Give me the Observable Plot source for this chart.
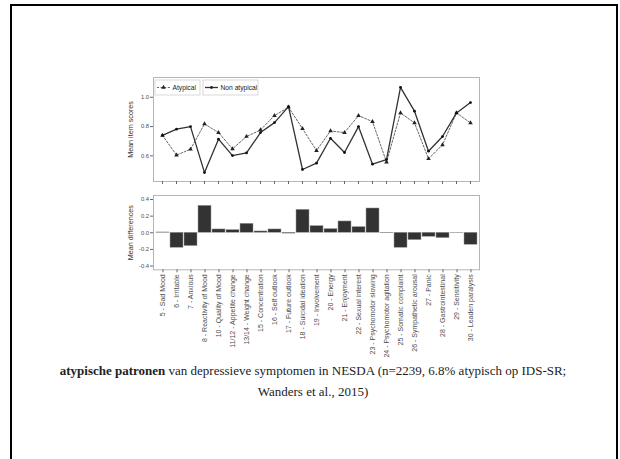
<!DOCTYPE html>
<html><head><meta charset="utf-8">
<script src="https://cdn.jsdelivr.net/npm/d3@7"></script>
<script src="https://cdn.jsdelivr.net/npm/@observablehq/plot@0.6"></script>
<style>
html,body{margin:0;padding:0;background:#fff;}
#page{position:relative;width:620px;height:459px;overflow:hidden;background:#fff;}
#frame{position:absolute;left:10px;top:4px;width:608px;height:480px;border:2px solid #000;box-sizing:border-box;}
#top{position:absolute;left:0;top:60px;}
#bottom{position:absolute;left:0;top:185px;}
#legend{position:absolute;left:0;top:0;}
#caption{position:absolute;left:0;width:626px;top:360px;text-align:center;font-family:"Liberation Serif",serif;font-size:13px;line-height:21px;color:#222;}
#caption b{font-weight:bold;}
</style>
</head><body>
<div id="page">
<div id="frame"></div>
<div id="top"></div>
<div id="bottom"></div>
<svg id="legend" width="620" height="120"></svg>
<div id="caption"><b>atypische patronen</b> van depressieve symptomen in NESDA (n=2239, 6.8% atypisch op IDS-SR;<br>Wanders et al., 2015)</div>
</div>
<script>
const items = ["5 - Sad Mood","6 - Irritable","7 - Anxious","8 - Reactivity of Mood","10 - Quality of Mood","11/12 - Appetite change","13/14 - Weight change","15 - Concentration","16 - Self outlook","17 - Future outlook","18 - Suicidal ideation","19 - Involvement","20 - Energy","21 - Enjoyment","22 - Sexual interest","23 - Psychomotor slowing","24 - Psychomotor agitation","25 - Somatic complaint","26 - Sympathetic arousal","27 - Panic","28 - Gastrointestinal","29 - Sensitivity","30 - Leaden paralysis"];
const atypical = [0.74,0.605,0.645,0.818,0.759,0.648,0.732,0.777,0.875,0.932,0.786,0.636,0.77,0.759,0.875,0.834,0.557,0.893,0.825,0.58,0.675,0.893,0.825];
const nonAtypical = [0.74,0.782,0.80,0.486,0.714,0.602,0.62,0.759,0.827,0.936,0.507,0.55,0.72,0.623,0.80,0.543,0.575,1.068,0.905,0.632,0.732,0.893,0.964];
const differences = [0.004,-0.18,-0.16,0.324,0.04,0.032,0.108,0.016,0.04,-0.01,0.276,0.08,0.044,0.136,0.068,0.292,-0.005,-0.18,-0.088,-0.048,-0.064,-0.003,-0.144];
const seriesNames = ["Atypical","Non atypical"];
const topTicks = [0.6,0.8,1.0];
const bottomTicks = [-0.4,-0.2,0.0,0.2,0.4];

const atypRows = items.map((it,i)=>({item:it, value:atypical[i]}));
const nonRows = items.map((it,i)=>({item:it, value:nonAtypical[i]}));
const diffRows = items.map((it,i)=>({item:it, diff:differences[i]}));

const tickColor = "#4d4d4d";
const topPlot = Plot.plot({
  width:620, height:140, marginLeft:153, marginRight:141, marginTop:17, marginBottom:19,
  style:{fontFamily:"Liberation Sans, Arial, sans-serif", background:"transparent"},
  x:{type:"point", domain:items, padding:0.6},
  y:{domain:[0.425,1.135]},
  marks:[
    Plot.frame({stroke:"#b5b5b5", strokeWidth:1}),
    Plot.axisY({ticks:topTicks, tickSize:3, tickPadding:1.5, tickFormat:d=>d.toFixed(1), fontSize:5.8, color:tickColor, label:null, stroke:"#666"}),
    Plot.axisX({tickSize:3, tickFormat:()=>"", label:null, stroke:"#666"}),
    Plot.line(atypRows,{x:"item", y:"value", stroke:"#555", strokeWidth:0.9, strokeDasharray:"2,1.6"}),
    Plot.dot(atypRows,{x:"item", y:"value", symbol:"triangle", r:1.7, fill:"#222", stroke:"none"}),
    Plot.line(nonRows,{x:"item", y:"value", stroke:"#333", strokeWidth:1.3}),
    Plot.dot(nonRows,{x:"item", y:"value", r:1.4, fill:"#111", stroke:"none"}),
    Plot.text(["Mean item scores"],{frameAnchor:"left", textAnchor:"middle", rotate:-90, dx:-23, fontSize:7.2, fill:"#333"})
  ]
});
document.getElementById("top").appendChild(topPlot);

const bottomPlot = Plot.plot({
  width:620, height:200, marginLeft:153, marginRight:141, marginTop:10, marginBottom:115.7,
  style:{fontFamily:"Liberation Sans, Arial, sans-serif", background:"transparent"},
  x:{type:"band", domain:items, paddingInner:0.1, paddingOuter:0.15},
  y:{domain:[-0.445,0.448]},
  marks:[
    Plot.frame({stroke:"#b5b5b5", strokeWidth:1}),
    Plot.barY(diffRows,{x:"item", y:"diff", fill:"#333", stroke:"#9a9a9a", strokeWidth:0.5}),
    Plot.axisY({ticks:bottomTicks, tickSize:3, tickPadding:1.5, tickFormat:d=>d.toFixed(1), fontSize:5.8, color:tickColor, label:null, stroke:"#666"}),
    Plot.axisX({tickSize:3, tickRotate:-90, tickPadding:1.5, fontSize:7, color:tickColor, label:null, stroke:"#666"}),
    Plot.text(["Mean differences"],{frameAnchor:"left", textAnchor:"middle", rotate:-90, dx:-23, fontSize:7.2, fill:"#333"})
  ]
});
document.getElementById("bottom").appendChild(bottomPlot);

// legend
const lg = d3.select("#legend").style("font-family","Liberation Sans, Arial, sans-serif");
const boxes = [
  {x:155, w:45, name:seriesNames[0], dash:"2,1.6", sym:d3.symbolTriangle},
  {x:203, w:55, name:seriesNames[1], dash:null, sym:d3.symbolCircle}
];
boxes.forEach(b=>{
  const g = lg.append("g");
  g.append("rect").attr("x",b.x).attr("y",80).attr("width",b.w).attr("height",15).attr("fill","#fff").attr("stroke","#cfcfcf").attr("stroke-width",0.8);
  g.append("line").attr("x1",b.x+2).attr("x2",b.x+15).attr("y1",87.5).attr("y2",87.5).attr("stroke",b.dash?"#555":"#333").attr("stroke-width",b.dash?0.9:1.3).attr("stroke-dasharray",b.dash);
  g.append("path").attr("transform",`translate(${b.x+8.5},87.5)`).attr("d",d3.symbol(b.sym, b.dash?9:6)()).attr("fill","#222");
  g.append("text").attr("x",b.x+17.5).attr("y",90).attr("font-size",6.7).attr("fill","#222").text(b.name);
});
</script>
</body></html>
